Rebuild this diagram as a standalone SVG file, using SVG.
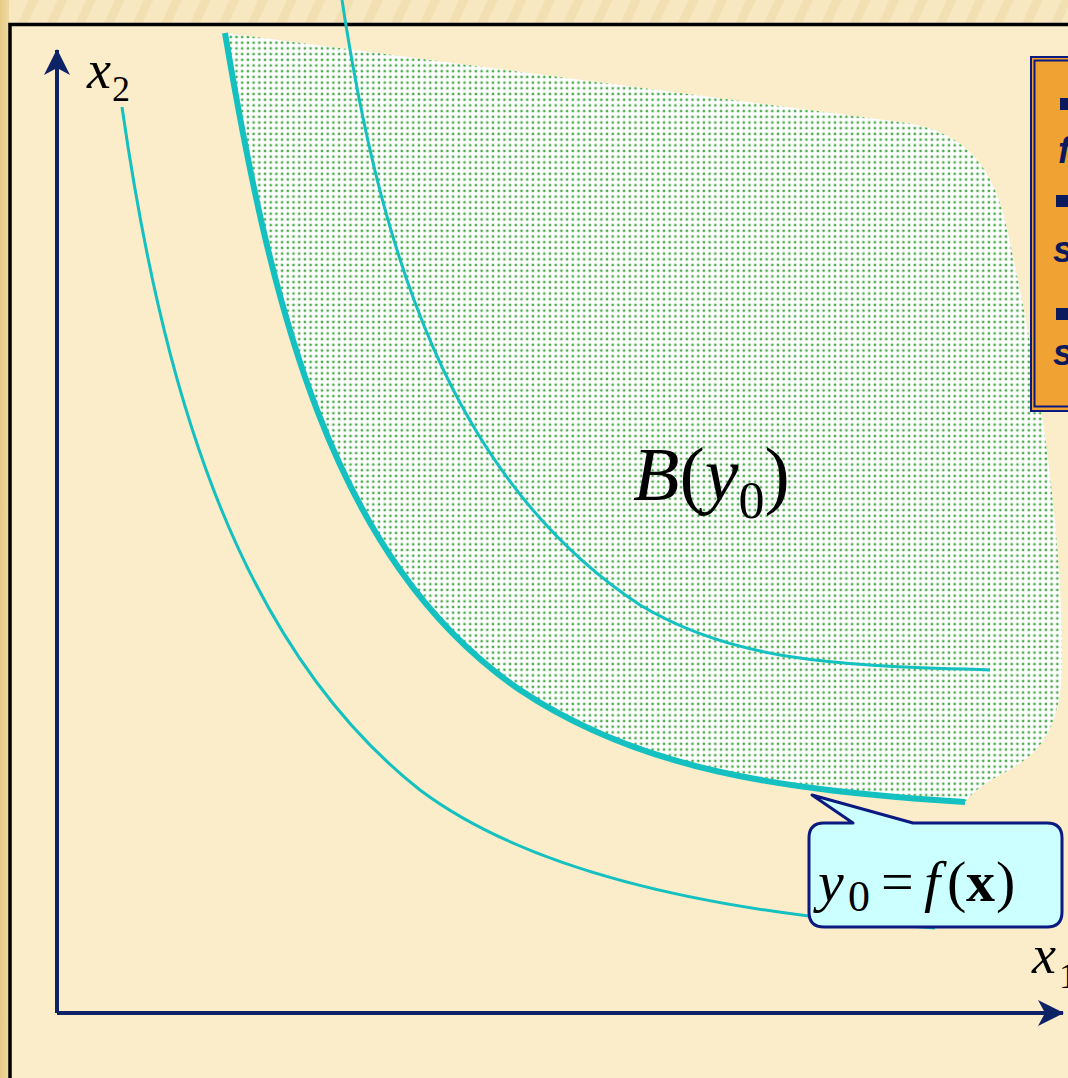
<svg xmlns="http://www.w3.org/2000/svg" width="1068" height="1078" viewBox="0 0 1068 1078">
  <defs>
    <pattern id="stripes" patternUnits="userSpaceOnUse" width="26" height="26" patternTransform="rotate(25)">
      <rect width="26" height="26" fill="#F8E8C2"/>
      <rect width="9" height="26" fill="#F3E0B2"/>
    </pattern>
    <linearGradient id="leftEdge" x1="0" y1="0" x2="1" y2="0">
      <stop offset="0" stop-color="#E6CB86"/>
      <stop offset="1" stop-color="#EFD9A2"/>
    </linearGradient>
    <pattern id="dots" patternUnits="userSpaceOnUse" width="5.7" height="5.7">
      <rect width="5.7" height="5.7" fill="#FFFFFF"/>
      <rect x="1.6" y="1.6" width="2.4" height="2.4" fill="#4AAA4A"/>
    </pattern>
    <marker id="arrow" viewBox="0 0 26 26" refX="25" refY="13" markerWidth="26" markerHeight="26" markerUnits="userSpaceOnUse" orient="auto">
      <path d="M0,0 L26,13 L0,26 L7,13 Z" fill="#0D2366"/>
    </marker>
  </defs>
  <style>
    .math { font-family: "Liberation Serif", "Times New Roman", serif; fill: #000000; }
    .it { font-style: italic; }
    .curve { fill: none; stroke: #14C0C0; stroke-linecap: butt; }
    .axis { stroke: #0D2366; stroke-width: 4; fill: none; }
    .boxtext { font-family: "Liberation Sans", Arial, sans-serif; font-weight: bold; font-style: italic; font-size: 36px; fill: #0A1A5C; }
  </style>

  <!-- slide background -->
  <rect x="0" y="0" width="1068" height="1078" fill="url(#stripes)"/>
  <rect x="0" y="0" width="9" height="1078" fill="url(#leftEdge)"/>

  <!-- frame -->
  <rect x="10" y="24.5" width="1100" height="1100" fill="#FBEDC9" stroke="#000000" stroke-width="3.5"/>

  <!-- feasible region B(y0) -->
  <g id="region">
    <path d="M225,33 L900,122 C960,130 990,160 1005,220 C1030,330 1062,500 1062,660 C1062,730 1040,755 1000,775 C985,783 975,790 965,802 C780,790 640,770 520,690 C330,560 270,300 225,33 Z" fill="url(#dots)"/>
  </g>

  <!-- isoquants -->
  <g id="curves">
    <path class="curve" stroke-width="3" d="M122,107 C160,370 230,640 420,790 C540,880 740,915 935,928"/>
    <path class="curve" stroke-width="6" d="M225,33 C270,300 330,560 520,690 C640,770 780,790 965,802"/>
    <path class="curve" stroke-width="3" d="M342,0 C380,250 450,480 640,605 C740,665 850,665 990,670"/>
  </g>

  <!-- axes -->
  <g id="connectors">
    <path class="axis" d="M57,1013 L57,50" marker-end="url(#arrow)"/>
    <path class="axis" d="M57,1013 L1063,1013" marker-end="url(#arrow)"/>
  </g>

  <!-- axis labels -->
  <g id="label-x2">
    <text class="math it" x="87" y="88" font-size="54">x</text>
    <text class="math" x="112" y="101" font-size="36">2</text>
  </g>
  <g id="label-x1">
    <text class="math it" x="1032" y="973" font-size="54">x</text>
    <text class="math" x="1059" y="988" font-size="36">1</text>
  </g>

  <!-- region label -->
  <g id="label-B">
    <text class="math" x="633" y="500" font-size="76"><tspan class="it">B</tspan>(<tspan class="it">y</tspan><tspan font-size="52" dy="18">0</tspan><tspan dy="-18">)</tspan></text>
  </g>

  <!-- callout -->
  <g id="callout">
    <path d="M824,823 L853,823 L812,795 L913,823 L1047,823 Q1062,823 1062,838 L1062,912 Q1062,927 1047,927 L824,927 Q809,927 809,912 L809,838 Q809,823 824,823 Z" fill="#CCFFFF" stroke="#0A1A80" stroke-width="3" stroke-linejoin="round"/>
    <text class="math" y="901" font-size="58"><tspan class="it" x="818">y</tspan><tspan x="848" y="911" font-size="44">0</tspan><tspan x="881" y="901">=</tspan><tspan class="it" x="924">f</tspan><tspan x="947">(</tspan><tspan x="966" font-weight="bold">x</tspan><tspan x="996">)</tspan></text>
  </g>

  <!-- side note box (cut off) -->
  <g id="note">
    <rect x="1031" y="57" width="60" height="354" fill="#F0A232" stroke="#0A1A80" stroke-width="2"/>
    <rect x="1034.5" y="60.5" width="60" height="346" fill="#F0A232" stroke="#0A1A80" stroke-width="2"/>
    <rect x="1060" y="98" width="12" height="12" fill="#0A1A5C"/>
    <text class="boxtext" x="1058" y="163">f</text>
    <rect x="1056" y="195" width="12" height="12" fill="#0A1A5C"/>
    <text class="boxtext" x="1053" y="262">s</text>
    <rect x="1056" y="308" width="12" height="12" fill="#0A1A5C"/>
    <text class="boxtext" x="1053" y="365">s</text>
  </g>
</svg>
